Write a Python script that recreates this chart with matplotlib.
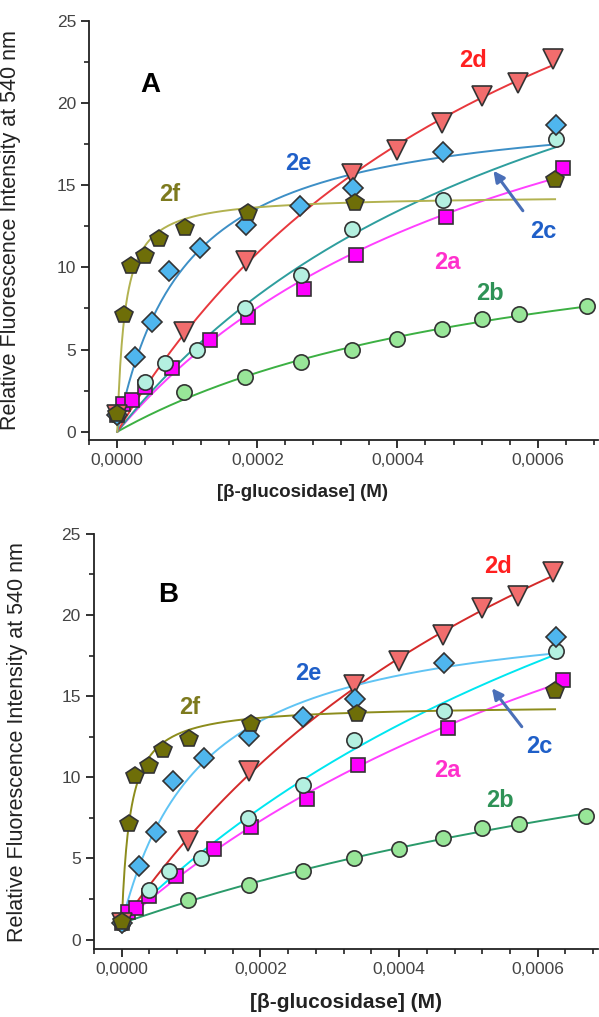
import numpy as np
import matplotlib
matplotlib.use("Agg")
import matplotlib.pyplot as plt
from matplotlib.ticker import FuncFormatter, MultipleLocator

plt.rcParams['font.family'] = ['Liberation Sans', 'DejaVu Sans']

# ---------------- data (same measured points in both panels) ----------------
series = ['2a', '2b', '2c', '2d', '2e', '2f']

x_2a = [0.0, 0.0000086, 0.0000206, 0.0000396, 0.0000777, 0.000133, 0.000186, 0.000267, 0.000341, 0.00047, 0.000636]
y_2a = [1.0, 1.70, 1.95, 2.70, 3.90, 5.55, 6.95, 8.65, 10.74, 13.04, 16.02]

x_2b = [0.0, 0.0000957, 0.000183, 0.000262, 0.000335, 0.0004, 0.000463, 0.00052, 0.000573, 0.00067]
y_2b = [1.0, 2.42, 3.34, 4.25, 5.00, 5.61, 6.24, 6.85, 7.13, 7.64]

x_2c = [0.0, 0.0000393, 0.0000681, 0.000114, 0.000182, 0.000262, 0.000335, 0.000465, 0.000626]
y_2c = [1.0, 3.03, 4.20, 5.00, 7.50, 9.52, 12.32, 14.09, 17.78]

x_2d = [0.0, 0.0000957, 0.000184, 0.000335, 0.0004, 0.000463, 0.00052, 0.000572, 0.000622]
y_2d = [1.0, 6.07, 10.38, 15.67, 17.15, 18.80, 20.42, 21.19, 22.65]

x_2e = [0.0, 0.0000254, 0.0000491, 0.0000738, 0.000118, 0.000184, 0.000261, 0.000336, 0.000465, 0.000626]
y_2e = [1.0, 4.55, 6.65, 9.80, 11.20, 12.57, 13.72, 14.80, 17.03, 18.65]

x_2f = [0.0, 0.00001, 0.0000196, 0.00004, 0.0000595, 0.0000967, 0.000186, 0.00034, 0.000625]
y_2f = [1.05, 7.10, 10.05, 10.68, 11.70, 12.37, 13.30, 13.93, 15.30]

xs = [x_2a, x_2b, x_2c, x_2d, x_2e, x_2f]
ys = [y_2a, y_2b, y_2c, y_2d, y_2e, y_2f]

panel_letters = ['A', 'B']
fit_baseline = [0.0, 1.0]   # fitted curves start at 0 (A) and at 1 (B)

xtick_values = [0.0, 0.0002, 0.0004, 0.0006]
ytick_values = [0, 5, 10, 15, 20, 25]

# ---------------- styles ----------------
markers = ['s', 'o', 'o', 'v', 'D', 'p']
msizes = [10, 11, 11, 14, 10.5, 13]
face_colors = ['#ff00ff', '#98e698', '#b4f0e0', '#f26d6d', '#4fb6ee', '#6e6e08']
line_colors = [
    ['#ff40ff', '#3cb043', '#2e9e9e', '#e8383d', '#3d8fc6', '#b2b250'],
    ['#ff40ff', '#2a9a6a', '#00e6f0', '#d42a2a', '#60c4f4', '#8c8c1c'],
]
label_colors = ['#ff30cc', '#2e9256', '#1f5fc8', '#ff2020', '#1f5fc8', '#7d7a1e']

# label positions (data coordinates) per panel
label_pos = [
    {'2d': (0.000508, 22.6), '2e': (0.000258, 16.3), '2f': (0.0000752, 14.4),
     '2c': (0.000608, 12.2), '2a': (0.000471, 10.3), '2b': (0.000532, 8.4)},
    {'2d': (0.000543, 23.0), '2e': (0.000269, 16.4), '2f': (0.0000985, 14.3),
     '2c': (0.000603, 11.9), '2a': (0.000469, 10.4), '2b': (0.000546, 8.6)},
]
letter_pos = [(0.0000467, 21.1), (0.0000672, 21.25)]
arrow_tail = [(0.000579, 13.44), (0.000577, 13.12)]
arrow_head = [(0.000537, 15.87), (0.000534, 15.49)]

# axes rectangles (fig fraction)
rects = [[0.149, 0.5674, 0.849, 0.4123], [0.1569, 0.0666, 0.8415, 0.4084]]
xlims = [(-0.00004, 0.000686), (-0.00004, 0.000687)]
ylims = [(-0.5, 25), (-0.6, 25)]
xlabel_coords = [(0.42, -0.105), (0.5, -0.105)]
xlabel_size = [13.5, 15]


def fit_hyperbola(x, y, y0):
    x = np.asarray(x); y = np.asarray(y) - y0
    best = None
    for K in np.logspace(-7, -1, 3000):
        g = x / (K + x)
        A = np.dot(g, y) / np.dot(g, g)
        sse = np.sum((y - A * g) ** 2)
        if best is None or sse < best[0]:
            best = (sse, A, K)
    return best[1], best[2]


fmt = FuncFormatter(lambda v, p: f"{v:.4f}".replace('.', ','))

fig = plt.figure(figsize=(5.99, 10.17), dpi=100)

for pi in range(2):
    ax = fig.add_axes(rects[pi])
    y0 = fit_baseline[pi]
    for si, name in enumerate(series):
        A, K = fit_hyperbola(xs[si], ys[si], y0)
        xx = np.linspace(0, max(xs[si]), 300)
        ax.plot(xx, y0 + A * xx / (K + xx), color=line_colors[pi][si], lw=1.4, zorder=2)
    for si, name in enumerate(series):
        ax.plot(xs[si], ys[si], linestyle='none', marker=markers[si], ms=msizes[si],
                mfc=face_colors[si], mec='#333333', mew=1.2, zorder=3 + si * 0.1)
        lx, ly = label_pos[pi][name]
        ax.text(lx, ly, name, color=label_colors[si], fontsize=17, fontweight='bold',
                ha='center', va='center', zorder=6)
    ax.text(*letter_pos[pi], panel_letters[pi], fontsize=20, fontweight='bold',
            ha='center', va='center', color='black')
    ax.annotate('', xy=arrow_head[pi], xytext=arrow_tail[pi],
                arrowprops=dict(arrowstyle='-|>', color='#4a6fb8', lw=2.2,
                                mutation_scale=16, shrinkA=0, shrinkB=0), zorder=6)

    ax.set_xlim(*xlims[pi])
    ax.set_ylim(*ylims[pi])
    ax.set_xticks(xtick_values)
    ax.xaxis.set_minor_locator(MultipleLocator(0.00004))
    ax.set_yticks(ytick_values)
    ax.yaxis.set_minor_locator(MultipleLocator(2.5))
    ax.xaxis.set_major_formatter(fmt)
    for s in ['top', 'right']:
        ax.spines[s].set_visible(False)
    for s in ['left', 'bottom']:
        ax.spines[s].set_color('#222222')
        ax.spines[s].set_linewidth(1.3)
    ax.tick_params(which='major', direction='out', length=6, width=1.3,
                   labelsize=12.5, labelcolor='#444444', color='#222222')
    ax.tick_params(which='minor', direction='out', length=3.5, width=1.2, color='#222222')
    ax.set_ylabel('Relative Fluorescence Intensity at 540 nm', fontsize=15.5, color='#222222')
    ax.set_xlabel('[β-glucosidase] (M)', fontsize=xlabel_size[pi], fontweight='bold', color='#222222')
    ax.xaxis.set_label_coords(*xlabel_coords[pi])

fig.axes[0].yaxis.set_label_coords(-0.135, 0.5)
fig.axes[1].yaxis.set_label_coords(-0.131, 0.5)

fig.savefig('out.png', dpi=100)
